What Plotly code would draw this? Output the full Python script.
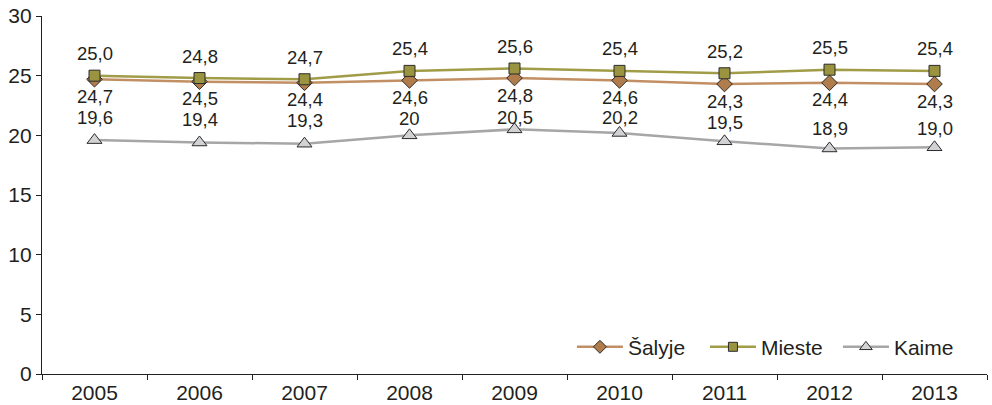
import plotly.graph_objects as go

years = ["2005", "2006", "2007", "2008", "2009", "2010", "2011", "2012", "2013"]
salyje = [24.7, 24.5, 24.4, 24.6, 24.8, 24.6, 24.3, 24.4, 24.3]
mieste = [25.0, 24.8, 24.7, 25.4, 25.6, 25.4, 25.2, 25.5, 25.4]
kaime = [19.6, 19.4, 19.3, 20.0, 20.5, 20.2, 19.5, 18.9, 19.0]
kaime_labels = ["19,6", "19,4", "19,3", "20", "20,5", "20,2", "19,5", "18,9", "19,0"]


def fmt(v):
    return f"{v:.1f}".replace(".", ",")


FONT = "Liberation Sans, Arial, sans-serif"
TXT = "#231f20"

series = [
    dict(name="Šalyje", y=salyje, line="#c28f64", fill="#b07c4c", symbol="diamond", size=12, lsize=10),
    dict(name="Mieste", y=mieste, line="#a09c48", fill="#9a9440", symbol="square", size=11, lsize=9),
    dict(name="Kaime", y=kaime, line="#a6a6a8", fill="#d2d2d4", symbol="triangle-up", size=13, lsize=11),
]

fig = go.Figure()
for s in series:
    fig.add_trace(go.Scatter(
        x=years, y=s["y"], name=s["name"], mode="lines+markers", showlegend=False,
        legendgroup=s["name"],
        line=dict(color=s["line"], width=2.5),
        marker=dict(symbol=s["symbol"], size=s["size"], color=s["fill"],
                    line=dict(color="#2b2b2b", width=1)),
    ))
# legend entries with slightly smaller symbols
for s in series:
    fig.add_trace(go.Scatter(
        x=[None], y=[None], name=s["name"], mode="lines+markers", legendgroup=s["name"],
        line=dict(color=s["line"], width=2.5),
        marker=dict(symbol=s["symbol"], size=s["lsize"], color=s["fill"],
                    line=dict(color="#2b2b2b", width=1)),
    ))

annotations = []
# value labels: urban above, country below, rural above
kaime_shift = [23, 23, 23, 17, 12, 15, 19, 20, 19]
for i, yr in enumerate(years):
    lab_font = dict(size=18.5, color=TXT, family=FONT)
    annotations.append(dict(x=i, y=mieste[i], xref="x", yref="y", text=fmt(mieste[i]),
                            yshift=22, showarrow=False, font=lab_font))
    annotations.append(dict(x=i, y=salyje[i], xref="x", yref="y", text=fmt(salyje[i]),
                            yshift=-17, showarrow=False, font=lab_font))
    annotations.append(dict(x=i, y=kaime[i], xref="x", yref="y", text=kaime_labels[i],
                            yshift=kaime_shift[i], showarrow=False, font=lab_font))

fig.update_layout(
    width=992, height=405,
    margin=dict(l=42, r=5, t=16, b=31),
    paper_bgcolor="white", plot_bgcolor="white",
    font=dict(family=FONT, size=21, color=TXT),
    showlegend=True,
    legend=dict(orientation="h", x=0.983, xanchor="right", y=0.075, yanchor="middle",
                bgcolor="rgba(0,0,0,0)", font=dict(size=21, color=TXT, family=FONT),
                itemwidth=46, entrywidth=72, entrywidthmode="pixels",
                traceorder="normal"),
    annotations=annotations,
)
fig.update_xaxes(
    type="category", range=[-0.5, 8.5], tickson="boundaries", automargin=False,
    showline=True, linecolor="#231f20", linewidth=1.2,
    ticks="outside", ticklen=5, tickcolor="#231f20",
    showgrid=False, zeroline=False, tickfont=dict(size=21),
)
fig.update_yaxes(
    range=[0, 30], dtick=5, tick0=0, automargin=False,
    showline=True, linecolor="#231f20", linewidth=1.2,
    ticks="outside", ticklen=5, tickcolor="#231f20",
    showgrid=False, zeroline=False, tickfont=dict(size=21),
)

fig.write_html("out.html")
